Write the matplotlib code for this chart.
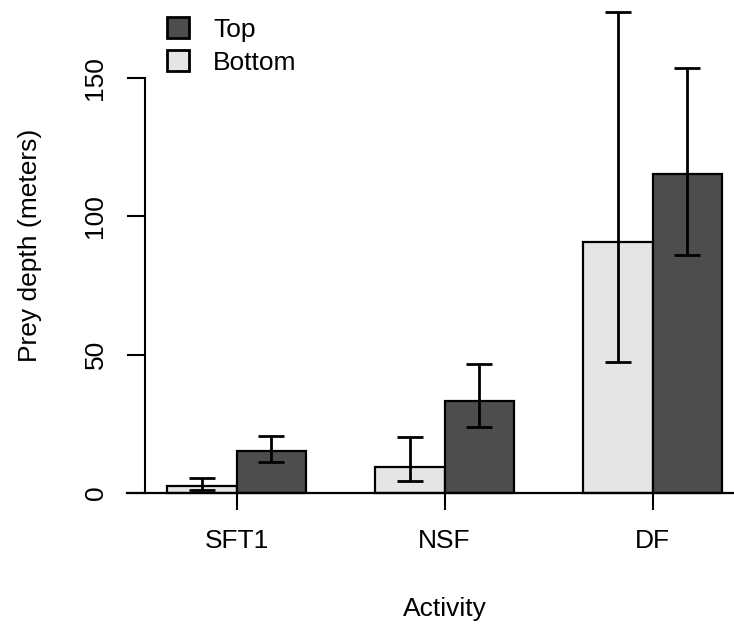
import matplotlib
matplotlib.use("Agg")
import matplotlib.pyplot as plt
import numpy as np

plt.rcParams['font.family'] = ['Liberation Sans', 'DejaVu Sans']

categories = ["SFT1", "NSF", "DF"]
series_names = ["Bottom", "Top"]
bottom_mean = [2.5, 9.5, 90.6]
bottom_lo = [1.1, 4.4, 47.5]
bottom_hi = [5.4, 20.3, 174.0]
top_mean = [15.2, 33.4, 115.3]
top_lo = [11.3, 24.0, 86.0]
top_hi = [20.7, 46.6, 153.7]
yticks = [0, 50, 100, 150]

light = "#E5E5E5"
dark = "#4D4D4D"
FS = 19

fig = plt.figure(figsize=(7.34, 6.28), dpi=100)
ax = fig.add_axes([145/734, (628-512.4)/628, 599.2/734, 523/628])

n = len(categories)
grp = np.arange(n) * 3
xb = grp + 1.5
xt = grp + 2.5

def errs(mean, lo, hi):
    m = np.array(mean); return np.vstack([m - np.array(lo), np.array(hi) - m])

bb = ax.bar(xb, bottom_mean, width=1, color=light, edgecolor="black", linewidth=1.6, label=series_names[0], zorder=2)
bt = ax.bar(xt, top_mean, width=1, color=dark, edgecolor="black", linewidth=1.6, label=series_names[1], zorder=2)
for x, m, lo, hi in [(xb, bottom_mean, bottom_lo, bottom_hi), (xt, top_mean, top_lo, top_hi)]:
    eb = ax.errorbar(x, m, yerr=errs(m, lo, hi), fmt='none', ecolor='black', elinewidth=2, capsize=9.5, capthick=2, zorder=3)
    for a in list(eb.lines[1]) + list(eb.lines[2]):
        a.set_clip_on(False)

ax.set_xlim(0.68, 9.32)
ax.set_ylim(-7, 182)

for s in ['top', 'right', 'bottom']:
    ax.spines[s].set_visible(False)
ax.spines['left'].set_bounds(0, 150)
ax.spines['left'].set_linewidth(1.5)
ax.spines['bottom'].set_position(('data', 0))
ax.axhline(0, xmin=-0.03, xmax=1, color='black', linewidth=1.6, clip_on=False, zorder=4)

ax.set_yticks(yticks)
ax.set_yticklabels([str(v) for v in yticks], rotation=90, va='center', ha='right')
ax.tick_params(axis='y', length=13, width=1.5, pad=14, labelsize=FS)
ax.set_xticks(grp + 2)
ax.set_xticklabels(categories)
ax.tick_params(axis='x', length=12.5, width=1.5, pad=13.5, labelsize=FS)

fig.text(30/734, 1 - 245/628, "Prey depth (meters)", rotation=90, ha='center', va='center', fontsize=FS)
fig.text(445/734, 1 - 609/628, "Activity", ha='center', va='center', fontsize=FS)

leg = ax.legend([bt, bb], [series_names[1], series_names[0]], loc='upper left',
                bbox_to_anchor=(167/734, 1 - 17/628), bbox_transform=fig.transFigure,
                frameon=False, fontsize=FS, handlelength=0.85, handleheight=0.85,
                handletextpad=0.9, labelspacing=0.33, borderaxespad=0, borderpad=0)
for h in leg.legend_handles:
    h.set_linewidth(2)

fig.savefig("out.png", dpi=100)
